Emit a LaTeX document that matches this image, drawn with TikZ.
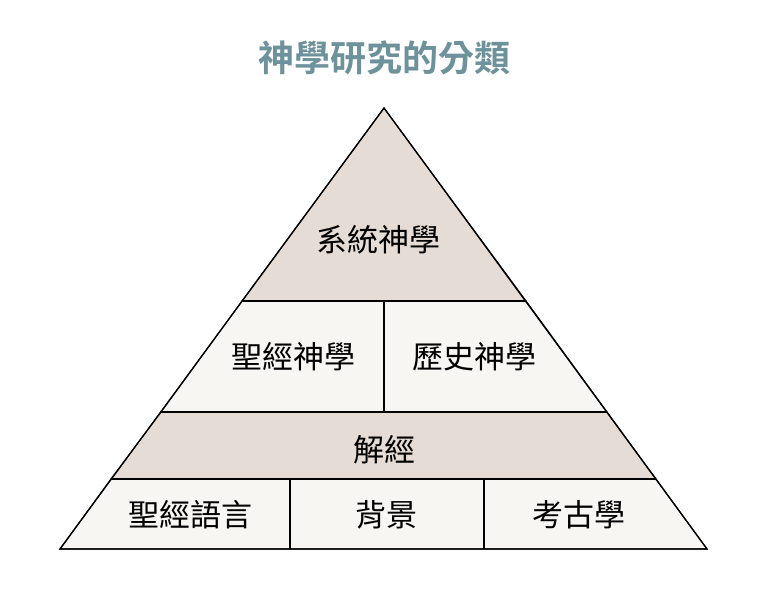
\documentclass[tikz,border=0pt]{standalone}
\usepackage{fontspec}
\newfontfamily\cjk{Noto Sans CJK TC}
\newfontfamily\cjkbold{Noto Sans CJK TC Bold}
\definecolor{taupe}{HTML}{E4DCD5}
\definecolor{cream}{HTML}{F8F6F2}
\definecolor{titleblue}{HTML}{6E929C}
\begin{document}
\begin{tikzpicture}[
    x=1pt, y=-1pt,
    band/.style={draw=black, line width=1.2pt, line join=miter},
    label/.style={font=\cjk\fontsize{31}{31}\selectfont, inner sep=0pt}
]
\useasboundingbox (0,0) rectangle (768,607);

% Title
\node[font=\cjkbold\fontsize{36}{36}\selectfont, text=titleblue] (title) at (384,58) {神學研究的分類};

% Layers
\fill[band, fill=taupe] (384,108) -- (526,301) -- (242,301) -- cycle;
\fill[band, fill=cream] (242,301) -- (526,301) -- (607,412) -- (161,412) -- cycle;
\fill[band, fill=taupe] (161,412) -- (607,412) -- (656,479) -- (111,479) -- cycle;
\fill[band, fill=cream] (111,479) -- (656,479) -- (707,549) -- (60,549) -- cycle;

% Outline and dividers
\draw[band] (384,108) -- (707,549) -- (60,549) -- cycle;
\draw[band] (242,301) -- (526,301);
\draw[band] (161,412) -- (607,412);
\draw[band] (111,479) -- (656,479);
\draw[band] (384,301) -- (384,412);
\draw[band] (290,479) -- (290,549);
\draw[band] (484,479) -- (484,549);

% Labels
\node[label] (systematic) at (378,240) {系統神學};
\node[label] (biblical) at (293,357) {聖經神學};
\node[label] (historical) at (474,357) {歷史神學};
\node[label] (exegesis) at (384,450) {解經};
\node[label] (languages) at (190,515) {聖經語言};
\node[label] (background) at (386,515) {背景};
\node[label] (archaeology) at (579,515) {考古學};
\end{tikzpicture}
\end{document}
